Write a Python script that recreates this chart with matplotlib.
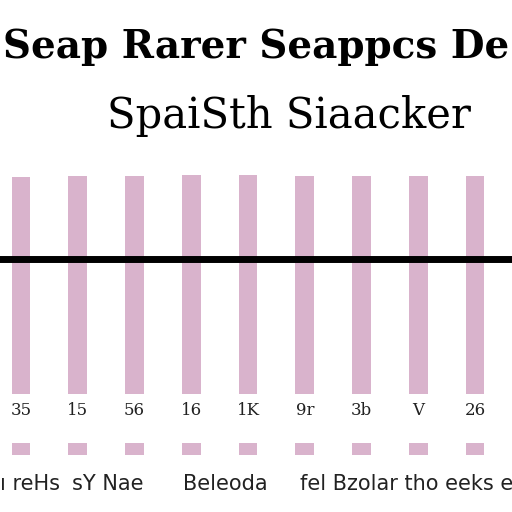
import matplotlib
matplotlib.use("Agg")
from matplotlib import pyplot as plt
import numpy as np

# chart data
tick_labels = ["35", "15", "56", "16", "1K", "9r", "3b", "V", "26"]
bar_values = [96.8, 97.3, 97.3, 97.6, 97.6, 97.3, 97.3, 97.3, 97.3]
line_value = 60.3
legend_values = [1, 1, 1, 1, 1, 1, 1, 1, 1]
title_top = "Seap Rarer Seappcs De"
title_sub = "SpaiSth Siaacker"
footer_words = [("ı reHs", 0.0), ("sY Nae", 0.14), ("Beleoda", 0.357), ("fel Bzolar tho eeks e", 0.585)]

pink = "#d9b3cc"
x = np.arange(len(bar_values))

fig = plt.figure(figsize=(5.12, 5.12), dpi=100)
fig.patch.set_facecolor("white")

# main bars
ax = fig.add_axes([0, (512 - 394) / 512, 1, 224 / 512])
ax.bar(x, bar_values, width=0.33, color=pink)
ax.axhline(line_value, color="black", linewidth=5)
ax.set_xlim(-0.37, 8.65)
ax.set_ylim(0, 100)
ax.axis("off")

for xi, lab in zip(x, tick_labels):
    ax.text(xi, -7.3, lab, ha="center", va="center", fontsize=12,
            family="DejaVu Serif", color="#222222")

# small pink swatches
ax2 = fig.add_axes([0, (512 - 455) / 512, 1, 12 / 512])
ax2.bar(x, legend_values, width=0.33, color=pink)
ax2.set_xlim(-0.37, 8.65)
ax2.set_ylim(0, 1)
ax2.axis("off")

# titles
fig.text(0.5, 1 - 47 / 512, title_top, ha="center", va="center", fontsize=28,
         family="DejaVu Serif", weight="bold")
fig.text(289 / 512, 1 - 116 / 512, title_sub, ha="center", va="center", fontsize=30,
         family="DejaVu Serif")

for word, xpos in footer_words:
    fig.text(xpos, 1 - 484 / 512, word, ha="left", va="center", fontsize=15,
             family="DejaVu Sans", color="#222222")

fig.savefig("out.png", dpi=100)
